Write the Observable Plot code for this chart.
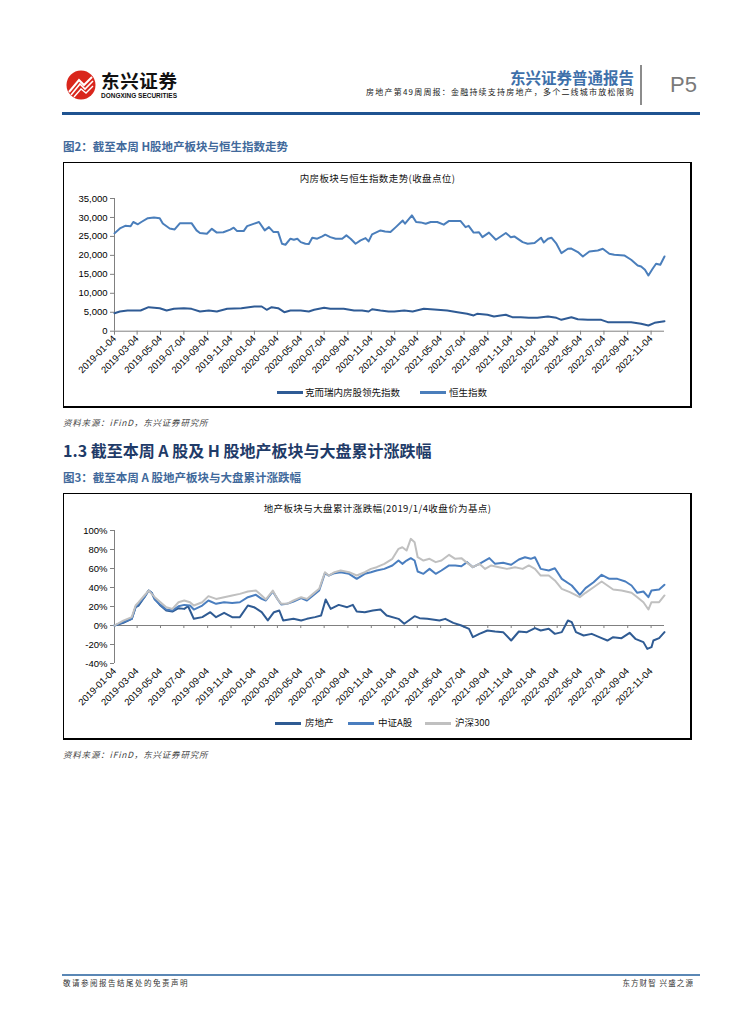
<!DOCTYPE html>
<html><head><meta charset="utf-8">
<script src="https://cdn.jsdelivr.net/npm/d3@7"></script>
<script src="https://cdn.jsdelivr.net/npm/@observablehq/plot@0.6"></script>
<style>
html,body{margin:0;padding:0;background:#fff;}
body{width:755px;height:1024px;position:relative;overflow:hidden;font-family:"Noto Sans CJK SC","Liberation Sans",Arial,sans-serif;}
.a{position:absolute;white-space:nowrap;line-height:1;}
.box{position:absolute;box-sizing:border-box;border:1px solid #000;border-right-width:2px;border-bottom-width:2px;}
.sw{position:absolute;height:3px;width:26px;}
.lg{position:absolute;font-size:9.5px;line-height:1;color:#111;white-space:nowrap;}
</style></head>
<body>
<div id="root"></div>
<script>
// ---------- DATA ----------
const xTickLabels = ["2019-01-04","2019-03-04","2019-05-04","2019-07-04","2019-09-04","2019-11-04","2020-01-04","2020-03-04","2020-05-04","2020-07-04","2020-09-04","2020-11-04","2021-01-04","2021-03-04","2021-05-04","2021-07-04","2021-09-04","2021-11-04","2022-01-04","2022-03-04","2022-05-04","2022-07-04","2022-09-04","2022-11-04"];
const dateRange = ["2019-01-04","2022-12-09"];

// Chart 1: 内房板块与恒生指数走势 (收盘点位)
const series1Names = ["克而瑞内房股领先指数","恒生指数"];
const y1Ticks = [0,5000,10000,15000,20000,25000,30000,35000];
const kerIndex = [
["2019-01-04",4750],["2019-01-18",5200],["2019-02-07",5460],["2019-03-13",5460],["2019-04-03",6340],["2019-05-02",6070],["2019-05-20",5460],["2019-06-08",5900],["2019-07-04",6070],["2019-07-24",5900],["2019-08-15",5200],["2019-09-07",5460],["2019-09-28",5200],["2019-10-25",5900],["2019-12-01",6070],["2020-01-04",6520],["2020-01-23",6520],["2020-02-05",5650],["2020-02-18",6340],["2020-03-06",6070],["2020-03-22",5020],["2020-04-07",5460],["2020-05-04",5460],["2020-05-25",5200],["2020-06-08",5650],["2020-07-04",6160],["2020-07-20",5900],["2020-08-24",5900],["2020-09-20",5460],["2020-10-11",5460],["2020-10-28",5200],["2020-11-06",5800],["2020-11-28",5460],["2020-12-19",5200],["2021-01-03",5200],["2021-01-29",5460],["2021-02-20",5200],["2021-03-21",5900],["2021-04-17",5720],["2021-05-21",5460],["2021-06-17",5020],["2021-07-12",4590],["2021-07-29",4150],["2021-08-07",4590],["2021-09-03",4330],["2021-09-20",3880],["2021-10-07",4150],["2021-10-21",4330],["2021-11-07",3700],["2021-11-29",3700],["2021-12-20",3530],["2022-01-11",3530],["2022-02-08",3880],["2022-03-02",3530],["2022-03-15",3000],["2022-04-10",3700],["2022-04-27",3170],["2022-05-23",3000],["2022-06-27",3000],["2022-07-14",2380],["2022-08-18",2380],["2022-09-13",2380],["2022-10-09",1950],["2022-10-28",1500],["2022-11-13",2200],["2022-12-09",2640]
];
const hsiIndex = [
["2019-01-04",25800],["2019-01-18",27100],["2019-02-01",27800],["2019-02-15",27700],["2019-02-22",28800],["2019-03-06",28200],["2019-03-15",28800],["2019-04-01",29800],["2019-04-17",30000],["2019-05-02",29800],["2019-05-10",28400],["2019-05-28",27100],["2019-06-10",26850],["2019-06-24",28500],["2019-07-24",28500],["2019-08-06",26580],["2019-08-15",25900],["2019-09-02",25700],["2019-09-15",27000],["2019-09-28",26000],["2019-10-15",26100],["2019-11-02",26800],["2019-11-11",27300],["2019-11-20",26400],["2019-12-07",26400],["2019-12-16",27700],["2020-01-16",28800],["2020-01-31",26600],["2020-02-11",27450],["2020-02-23",26140],["2020-03-06",26140],["2020-03-16",23070],["2020-03-25",22800],["2020-04-07",24400],["2020-04-16",24130],["2020-04-25",24400],["2020-05-04",23500],["2020-05-16",23070],["2020-05-25",23000],["2020-06-03",24660],["2020-06-16",24400],["2020-06-29",25000],["2020-07-07",25450],["2020-07-20",24820],["2020-08-03",24400],["2020-08-20",24400],["2020-08-31",25270],["2020-09-11",24400],["2020-09-24",23070],["2020-10-07",23950],["2020-10-20",24550],["2020-10-28",23680],["2020-11-06",25530],["2020-11-28",26580],["2020-12-10",26300],["2020-12-24",26140],["2021-01-07",27450],["2021-01-25",29200],["2021-01-31",28350],["2021-02-18",30540],["2021-03-01",28800],["2021-03-13",28700],["2021-03-26",28350],["2021-04-08",28800],["2021-04-25",28800],["2021-05-12",28100],["2021-05-25",29040],["2021-06-25",29040],["2021-07-08",27450],["2021-07-16",27800],["2021-07-29",26000],["2021-08-12",26100],["2021-08-21",24800],["2021-09-07",26000],["2021-09-25",24130],["2021-10-21",25900],["2021-11-03",24800],["2021-11-12",25000],["2021-12-04",23500],["2021-12-17",23070],["2022-01-04",23240],["2022-01-21",24660],["2022-01-28",23400],["2022-02-08",24400],["2022-02-17",24660],["2022-03-02",23070],["2022-03-15",20600],["2022-04-01",21750],["2022-04-10",21800],["2022-04-27",20860],["2022-05-10",19720],["2022-05-27",21040],["2022-06-18",21300],["2022-07-01",21750],["2022-07-18",20430],["2022-07-31",20170],["2022-08-26",19980],["2022-09-13",18850],["2022-09-30",17350],["2022-10-09",17080],["2022-10-19",16200],["2022-10-28",14700],["2022-11-08",16470],["2022-11-17",17790],["2022-11-28",17530],["2022-12-09",19720]
];

// Chart 2: 地产板块与大盘累计涨跌幅 (%)
const series2Names = ["房地产","中证A股","沪深300"];
const y2Ticks = [-40,-20,0,20,40,60,80,100];
const realEstate = [
["2019-01-04",0],["2019-01-27",2.8],["2019-02-18",7],["2019-02-28",19.3],["2019-03-08",21],["2019-03-23",29.8],["2019-04-03",36.8],["2019-04-11",34.4],["2019-04-19",28],["2019-05-04",21],["2019-05-19",15.8],["2019-06-04",14.7],["2019-06-20",18.2],["2019-07-05",17.5],["2019-07-15",20.3],["2019-07-30",7],["2019-08-21",8.8],["2019-09-11",14],["2019-09-26",8.8],["2019-10-17",13.3],["2019-11-07",8.8],["2019-11-27",8.8],["2019-12-18",21],["2020-01-03",19.3],["2020-01-23",14],["2020-02-08",5.3],["2020-02-24",14],["2020-03-09",15.8],["2020-03-19",5.3],["2020-04-15",7],["2020-05-05",5.3],["2020-05-20",7],["2020-06-10",8.8],["2020-06-26",10.5],["2020-07-08",27.4],["2020-07-21",17.5],["2020-08-11",21.7],["2020-09-02",19.3],["2020-09-17",21.7],["2020-09-27",14.7],["2020-10-18",14],["2020-11-08",15.8],["2020-11-28",16.8],["2020-12-14",10.5],["2021-01-14",7],["2021-01-29",1.8],["2021-02-25",9.8],["2021-03-10",7.7],["2021-03-30",7],["2021-05-01",5.3],["2021-05-16",7],["2021-06-06",2.8],["2021-06-27",0],["2021-07-17",-3.5],["2021-07-27",-12.3],["2021-08-13",-8.8],["2021-09-03",-5.3],["2021-09-23",-6.3],["2021-10-14",-7],["2021-11-04",-15.8],["2021-11-24",-6.3],["2021-12-15",-7],["2022-01-05",-2.8],["2022-01-20",-5.3],["2022-02-10",-3.5],["2022-02-26",-8.8],["2022-03-16",-7],["2022-04-01",5.3],["2022-04-11",3.5],["2022-04-22",-7],["2022-05-12",-10.5],["2022-06-02",-8.8],["2022-06-28",-13.3],["2022-07-13",-15.8],["2022-07-28",-12.3],["2022-08-19",-13.3],["2022-09-09",-7.7],["2022-09-24",-14],["2022-10-15",-17.5],["2022-10-25",-24.6],["2022-11-05",-22.8],["2022-11-10",-15.8],["2022-11-25",-13.3],["2022-12-09",-7]
];
const csiAShare = [
["2019-01-04",0],["2019-01-27",3.5],["2019-02-18",7],["2019-02-28",19.3],["2019-03-08",22.8],["2019-03-23",29.8],["2019-04-03",36.8],["2019-04-11",34.4],["2019-04-19",27.4],["2019-05-04",21.7],["2019-05-19",16.8],["2019-06-04",15.8],["2019-06-20",20.3],["2019-07-05",21.7],["2019-07-20",21],["2019-07-30",16.8],["2019-08-21",21],["2019-09-06",26.3],["2019-09-26",22.8],["2019-10-17",24.5],["2019-11-07",23.8],["2019-11-27",24.5],["2019-12-18",29.8],["2020-01-08",32.3],["2020-01-23",28],["2020-02-03",26.3],["2020-02-21",35.8],["2020-03-04",28],["2020-03-14",22.1],["2020-03-29",22.8],["2020-04-15",25.3],["2020-05-05",28.8],["2020-05-20",26.3],["2020-06-05",31.6],["2020-06-21",36.8],["2020-07-06",55.1],["2020-07-16",52.6],["2020-07-31",55.1],["2020-08-16",56.1],["2020-09-07",54.4],["2020-09-27",49.1],["2020-10-18",54.4],["2020-11-03",56.1],["2020-11-18",57.9],["2020-12-08",59.6],["2020-12-29",63.2],["2021-01-14",68.4],["2021-01-24",64.9],["2021-02-04",68.4],["2021-02-15",70.9],["2021-02-25",68.4],["2021-03-05",56.8],["2021-03-20",54.4],["2021-04-05",59.6],["2021-04-21",54.4],["2021-05-06",57.9],["2021-05-26",63.2],["2021-06-11",63.2],["2021-06-27",62.4],["2021-07-12",66.7],["2021-07-27",61.4],["2021-08-13",64.9],["2021-09-08",70.9],["2021-09-23",64.9],["2021-10-14",66],["2021-11-04",63.9],["2021-11-24",69.5],["2021-12-10",71.9],["2021-12-25",70.2],["2022-01-05",71.9],["2022-01-20",59.6],["2022-02-10",57.9],["2022-02-26",60.3],["2022-03-16",49.1],["2022-04-11",42.1],["2022-05-02",32.3],["2022-05-17",39.3],["2022-06-07",45.6],["2022-06-28",53.3],["2022-07-18",49.1],["2022-08-08",49.1],["2022-08-29",46.3],["2022-09-14",42.1],["2022-09-29",34.4],["2022-10-15",35.8],["2022-10-28",29.8],["2022-11-05",36.8],["2022-11-25",37.9],["2022-12-09",42.8]
];
const hs300 = [
["2019-01-04",0],["2019-01-27",5.2],["2019-02-18",8.8],["2019-02-28",21],["2019-03-08",24.5],["2019-03-23",31.6],["2019-04-03",36.8],["2019-04-11",33.3],["2019-04-19",29.8],["2019-05-04",24.5],["2019-05-19",19.3],["2019-06-04",17.5],["2019-06-20",24.5],["2019-07-05",26.3],["2019-07-20",24.5],["2019-07-30",21],["2019-08-21",24.5],["2019-09-06",30.9],["2019-09-26",28],["2019-10-17",29.8],["2019-11-07",31.6],["2019-11-27",33.3],["2019-12-18",35.8],["2020-01-08",36.8],["2020-01-23",31.6],["2020-02-03",27.4],["2020-02-21",36.8],["2020-03-04",28],["2020-03-14",22.8],["2020-03-29",22.8],["2020-04-15",26.3],["2020-05-05",29.8],["2020-05-20",28],["2020-06-05",33.3],["2020-06-21",38.6],["2020-07-06",56.1],["2020-07-16",52.6],["2020-07-31",56.1],["2020-08-16",57.9],["2020-09-07",56.1],["2020-09-27",52.6],["2020-10-18",56.1],["2020-11-03",59.6],["2020-11-18",61.4],["2020-12-08",64.9],["2020-12-29",70.2],["2021-01-14",80.7],["2021-01-24",82.4],["2021-02-04",78.9],["2021-02-15",91.2],["2021-02-25",87.7],["2021-03-05",71.9],["2021-03-20",68.4],["2021-04-05",70.2],["2021-04-21",66.7],["2021-05-06",68.4],["2021-05-26",74.4],["2021-06-11",70.2],["2021-06-27",70.9],["2021-07-12",65.9],["2021-07-27",61.4],["2021-08-13",64.9],["2021-08-28",59.6],["2021-09-13",63.2],["2021-10-03",61.4],["2021-10-24",59.6],["2021-11-14",61.4],["2021-12-04",59.6],["2021-12-20",63.2],["2022-01-05",59.6],["2022-01-20",52.6],["2022-02-10",52.6],["2022-02-26",47.4],["2022-03-16",38.6],["2022-04-06",35.1],["2022-05-02",29.8],["2022-05-17",34.4],["2022-06-07",40.3],["2022-06-28",46.3],["2022-07-13",42.1],["2022-07-28",37.9],["2022-08-19",36.8],["2022-09-14",34.4],["2022-09-29",29.8],["2022-10-15",24.5],["2022-10-28",16.8],["2022-11-05",24.5],["2022-11-25",24.5],["2022-12-09",31.6]
];

// ---------- PAGE ----------
const root = document.getElementById("root");
function el(html){ root.insertAdjacentHTML("beforeend", html); }

// header
el(`<svg class="a" style="left:62px;top:62px;overflow:visible" width="130" height="44">
  <circle cx="19" cy="23" r="14.5" fill="#d9261c"/>
  <path d="M7,30 L17,18 L22,23 L30,15" stroke="#fff" stroke-width="2" fill="none"/>
  <path d="M9,33 L18,22 L23,27 L31,19" stroke="#fff" stroke-width="1.6" fill="none"/>
  <path d="M12,35 L19,27 L24,31 L31,24" stroke="#fff" stroke-width="1.4" fill="none"/>
  <text x="39" y="26" font-family="Noto Sans CJK SC" font-weight="bold" font-size="18.5" fill="#111" textLength="76">东兴证券</text>
  <text x="39" y="36" font-family="Liberation Sans, Arial" font-weight="bold" font-size="6.5" fill="#111" textLength="76" lengthAdjust="spacingAndGlyphs">DONGXING SECURITIES</text>
</svg>`);
el(`<div class="a" style="right:121px;top:70px;font-size:15.5px;font-weight:bold;color:#3e70aa;">东兴证券普通报告</div>`);
el(`<div class="a" style="right:120px;top:88px;font-size:8px;letter-spacing:1.2px;color:#222;">房地产第49周周报：金融持续支持房地产，多个二线城市放松限购</div>`);
el(`<div class="a" style="left:640px;top:65px;width:1.5px;height:40px;background:#8c8c8c;"></div>`);
el(`<div class="a" style="left:670px;top:74px;font-size:22px;color:#7a7a7a;font-family:'Liberation Sans',Arial;">P5</div>`);
el(`<div class="a" style="left:62px;top:112px;width:638px;height:3px;background:#1f5391;"></div>`);

// figure 2 caption & box
el(`<div class="a" style="left:63px;top:141px;font-size:11.5px;font-weight:bold;color:#41699b;">图2：截至本周 H股地产板块与恒生指数走势</div>`);
el(`<div class="box" style="left:63px;top:162px;width:629px;height:246px;"></div>`);
el(`<div class="a" style="left:63px;width:629px;text-align:center;top:174px;font-size:9.5px;letter-spacing:0.4px;color:#111;">内房板块与恒生指数走势(收盘点位)</div>`);

// figure 2 legend
el(`<div class="sw" style="left:277px;top:391px;background:#2f5b95"></div><div class="lg" style="left:305px;top:388px;">${series1Names[0]}</div>`);
el(`<div class="sw" style="left:420px;top:391px;background:#4a7ebb"></div><div class="lg" style="left:449px;top:388px;">${series1Names[1]}</div>`);
el(`<div class="a" style="left:63px;top:418px;font-size:8.5px;font-style:italic;letter-spacing:0.8px;color:#444;">资料来源：iFinD，东兴证券研究所</div>`);

// section heading
el(`<div class="a" style="left:63px;top:442px;font-size:16px;font-weight:bold;color:#1f3b68;">1.3 截至本周 A 股及 H 股地产板块与大盘累计涨跌幅</div>`);
el(`<div class="a" style="left:63px;top:472px;font-size:11.5px;font-weight:bold;color:#41699b;">图3：截至本周 A 股地产板块与大盘累计涨跌幅</div>`);
el(`<div class="box" style="left:63px;top:493px;width:629px;height:247px;"></div>`);
el(`<div class="a" style="left:63px;width:629px;text-align:center;top:504px;font-size:9.5px;letter-spacing:0.4px;color:#111;">地产板块与大盘累计涨跌幅(2019/1/4收盘价为基点)</div>`);
el(`<div class="sw" style="left:275px;top:722px;background:#2f5b93"></div><div class="lg" style="left:305px;top:718px;">${series2Names[0]}</div>`);
el(`<div class="sw" style="left:348px;top:722px;background:#4a7ebf"></div><div class="lg" style="left:378px;top:718px;">${series2Names[1]}</div>`);
el(`<div class="sw" style="left:425px;top:722px;background:#c0c0c0"></div><div class="lg" style="left:455px;top:718px;">${series2Names[2]}</div>`);
el(`<div class="a" style="left:63px;top:750px;font-size:8.5px;font-style:italic;letter-spacing:0.8px;color:#444;">资料来源：iFinD，东兴证券研究所</div>`);

// footer
el(`<div class="a" style="left:62px;top:974px;width:638px;height:2px;background:#5a87b5;"></div>`);
el(`<div class="a" style="left:63px;top:979px;font-size:7.5px;letter-spacing:1.5px;color:#333;">敬请参阅报告结尾处的免责声明</div>`);
el(`<div class="a" style="right:61px;top:979px;font-size:7.5px;letter-spacing:1.1px;color:#333;">东方财智 兴盛之源</div>`);

// ---------- PLOTS ----------
const parse = s => new Date(s + "T00:00:00Z");
const xDomain = dateRange.map(parse);
const xTicks = xTickLabels.map(parse);
const toRows = (arr, name) => arr.map(([d, v]) => ({date: parse(d), value: v, name}));
const fmtDate = d3.utcFormat("%Y-%m-%d");
const font = {fontFamily: "'Liberation Sans', Arial, sans-serif", fontSize: "9.5px", background: "transparent", overflow: "visible", color: "#000"};

const p1 = Plot.plot({
  width: 629, height: 190, marginLeft: 51, marginRight: 28, marginTop: 13, marginBottom: 44.3,
  style: font,
  x: {type: "utc", domain: xDomain},
  y: {domain: [0, 35000]},
  marks: [
    Plot.axisY({ticks: y1Ticks, tickFormat: d3.format(","), tickSize: 4, tickPadding: 3, label: null, stroke: "#808080", fill: "#000"}),
    Plot.axisX({ticks: xTicks, tickFormat: fmtDate, tickRotate: -45, tickSize: 4, tickPadding: 2, label: null, stroke: "#808080", fill: "#000"}),
    Plot.ruleX([xDomain[0]], {stroke: "#808080"}),
    Plot.ruleY([0], {stroke: "#808080"}),
    Plot.line(toRows(kerIndex, series1Names[0]), {x: "date", y: "value", stroke: "#2f5b95", strokeWidth: 2}),
    Plot.line(toRows(hsiIndex, series1Names[1]), {x: "date", y: "value", stroke: "#4a7ebb", strokeWidth: 2})
  ]
});
p1.style.position = "absolute"; p1.style.left = "63px"; p1.style.top = "185px";
root.appendChild(p1);

const p2 = Plot.plot({
  width: 629, height: 200, marginLeft: 51, marginRight: 28, marginTop: 15, marginBottom: 52,
  style: font,
  x: {type: "utc", domain: xDomain},
  y: {domain: [-40, 100]},
  marks: [
    Plot.axisY({ticks: y2Ticks, tickFormat: d => d + "%", tickSize: 4, tickPadding: 3, label: null, stroke: "#808080", fill: "#000"}),
    Plot.axisX({ticks: xTicks, tickFormat: fmtDate, tickRotate: -45, tickSize: 0, tickPadding: 6, label: null, fill: "#000"}),
    Plot.ruleX([xDomain[0]], {stroke: "#808080"}),
    Plot.ruleY([0], {stroke: "#808080"}),
    Plot.ruleX(xTicks, {x: d => d, y1: 0, y2: -3.2, stroke: "#808080"}),
    Plot.line(toRows(realEstate, series2Names[0]), {x: "date", y: "value", stroke: "#2f5b93", strokeWidth: 2}),
    Plot.line(toRows(csiAShare, series2Names[1]), {x: "date", y: "value", stroke: "#4a7ebf", strokeWidth: 2}),
    Plot.line(toRows(hs300, series2Names[2]), {x: "date", y: "value", stroke: "#c0c0c0", strokeWidth: 2})
  ]
});
p2.style.position = "absolute"; p2.style.left = "63px"; p2.style.top = "515px";
root.appendChild(p2);
</script>
</body></html>
